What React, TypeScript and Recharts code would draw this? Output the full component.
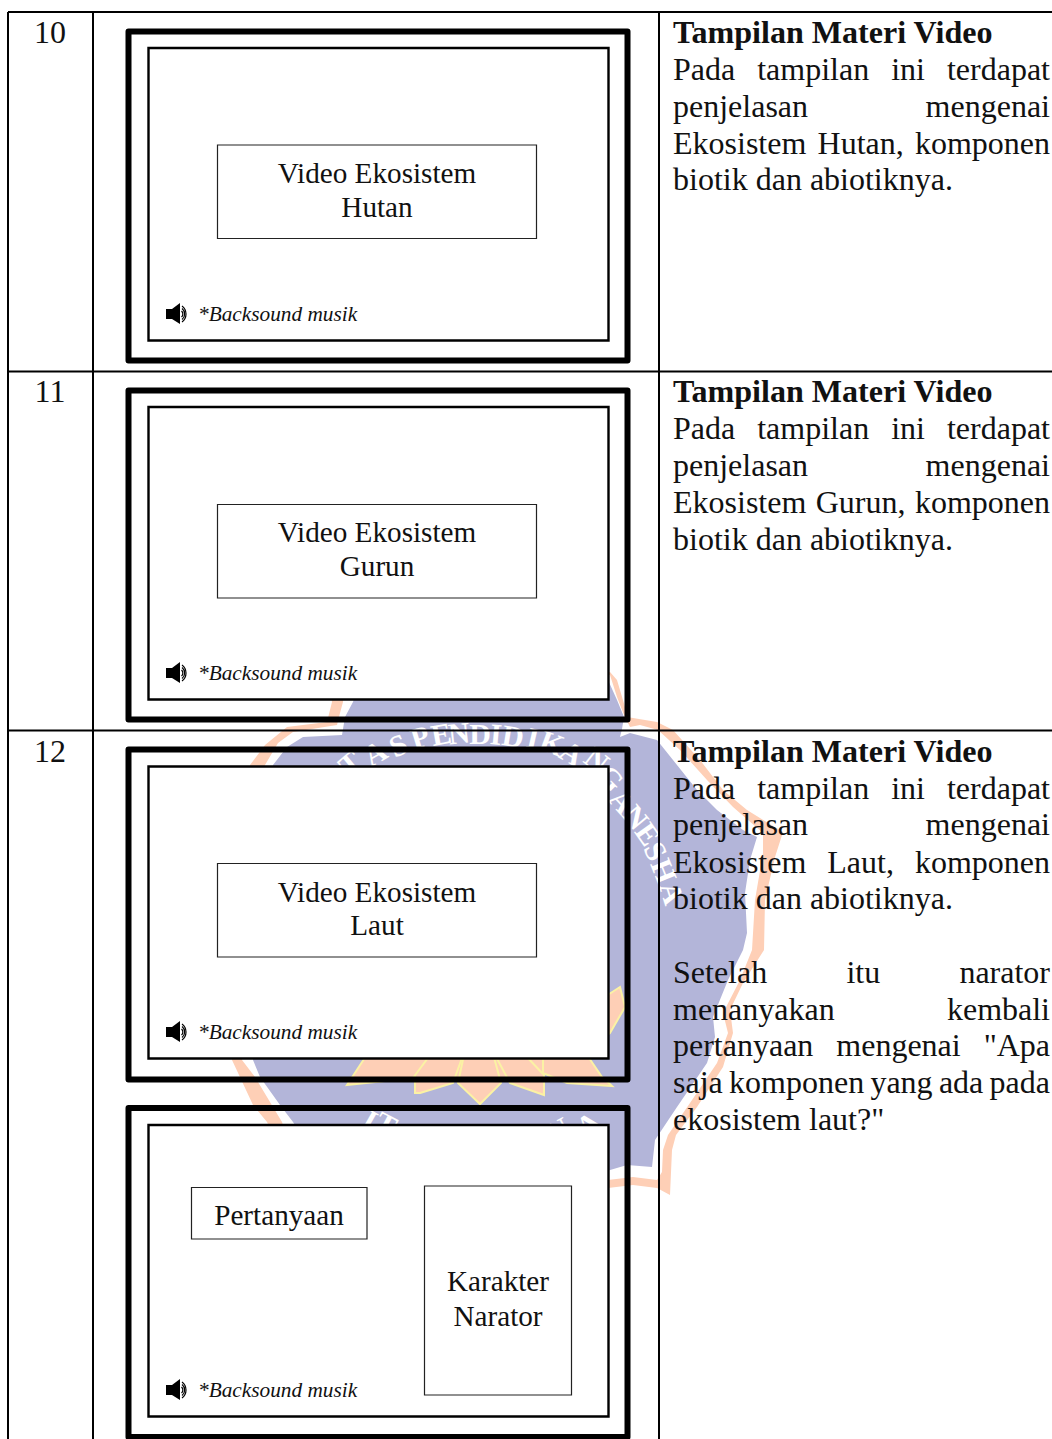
import React from 'react';
import { ScatterChart, Scatter, XAxis, YAxis } from 'recharts';

const PAGE_W = 1052;
const PAGE_H = 1439;
const SERIF = '"Liberation Serif", "Times New Roman", serif';
const RIGHT_COL_W = 377;

type Pt = { x: number; y: number };
const pts = (list: number[][]): Pt[] => list.map(([x, y]) => ({ x, y }));
const rect = ([x0, y0, x1, y1]: number[]): Pt[] => pts([[x0, y0], [x1, y0], [x1, y1], [x0, y1]]);

// table rules
const tableRules = [
  [8, 12, 1052, 12],
  [8, 371.5, 1052, 371.5],
  [8, 730.5, 1052, 730.5],
  [8, 12, 8, 1439],
  [93, 12, 93, 1439],
  [659, 12, 659, 1439],
];

// storyboard screens
const outerFrames = [
  [128.5, 31.5, 627.5, 360.5],
  [128.5, 390.5, 627.5, 719.5],
  [128.5, 749.5, 627.5, 1079.5],
  [128.5, 1108, 627.5, 1437],
];
const innerPanels = [
  [148.5, 48, 608.5, 340.5],
  [148.5, 407, 608.5, 699.5],
  [148.5, 766.5, 608.5, 1058.5],
  [148.5, 1125, 608.5, 1416.5],
];
const contentBoxes = [
  [217.5, 145, 536.5, 238.5],
  [217.5, 504.5, 536.5, 598],
  [217.5, 863.5, 536.5, 957],
  [191.5, 1187.5, 367, 1239],
  [424.5, 1186, 571.5, 1395],
];

// text
const rowNumbers = [
  { x: 50, y: 43, text: '10' },
  { x: 50, y: 402, text: '11' },
  { x: 50, y: 762, text: '12' },
];
const headings = [
  { x: 673, y: 43, text: 'Tampilan Materi Video' },
  { x: 673, y: 402, text: 'Tampilan Materi Video' },
  { x: 673, y: 762, text: 'Tampilan Materi Video' },
];
const bodyLines = [
  { x: 673, y: 79.5, text: 'Pada tampilan ini terdapat', justify: true },
  { x: 673, y: 116.5, text: 'penjelasan mengenai', justify: true },
  { x: 673, y: 153.5, text: 'Ekosistem Hutan, komponen', justify: true },
  { x: 673, y: 190, text: 'biotik dan abiotiknya.', justify: false },
  { x: 673, y: 439, text: 'Pada tampilan ini terdapat', justify: true },
  { x: 673, y: 476, text: 'penjelasan mengenai', justify: true },
  { x: 673, y: 512.5, text: 'Ekosistem Gurun, komponen', justify: true },
  { x: 673, y: 549.5, text: 'biotik dan abiotiknya.', justify: false },
  { x: 673, y: 799, text: 'Pada tampilan ini terdapat', justify: true },
  { x: 673, y: 835, text: 'penjelasan mengenai', justify: true },
  { x: 673, y: 872.5, text: 'Ekosistem Laut, komponen', justify: true },
  { x: 673, y: 909, text: 'biotik dan abiotiknya.', justify: false },
  { x: 673, y: 983, text: 'Setelah itu narator', justify: true },
  { x: 673, y: 1020, text: 'menanyakan kembali', justify: true },
  { x: 673, y: 1056, text: 'pertanyaan mengenai "Apa', justify: true },
  { x: 673, y: 1093, text: 'saja komponen yang ada pada', justify: true },
  { x: 673, y: 1130, text: 'ekosistem laut?"', justify: false },
];
const boxLabels = [
  { x: 377, y: 183, text: 'Video Ekosistem' },
  { x: 377, y: 217, text: 'Hutan' },
  { x: 377, y: 542, text: 'Video Ekosistem' },
  { x: 377, y: 576, text: 'Gurun' },
  { x: 377, y: 902, text: 'Video Ekosistem' },
  { x: 377, y: 935, text: 'Laut' },
  { x: 279, y: 1225, text: 'Pertanyaan' },
  { x: 498, y: 1291, text: 'Karakter' },
  { x: 498, y: 1326, text: 'Narator' },
];
const soundNotes = [
  { x: 198, y: 321, text: '*Backsound musik' },
  { x: 198, y: 680, text: '*Backsound musik' },
  { x: 198, y: 1039, text: '*Backsound musik' },
  { x: 198, y: 1397, text: '*Backsound musik' },
];
const speakers = pts([[166, 314], [166, 673], [166, 1032], [166, 1390]]);

// watermark seal; hidden stretches run behind the white panels
const sealOrange = pts([
  [330, 690], [332, 702], [327, 722], [287, 727], [265, 745], [250, 765], [232, 900], [232, 1060],
  [253, 1105], [267, 1122], [300, 1190], [608, 1188], [633, 1185], [657, 1188], [670, 1195],
  [672, 1150], [676, 1135], [697, 1107], [723, 1067], [733, 1033], [730, 1010], [743, 983], [764, 950],
  [765, 900], [775, 857], [783, 832], [747, 810], [723, 790], [700, 760], [673, 730], [657, 722],
  [633, 718], [627, 717], [625, 707], [617, 680], [610, 672],
]);
const sealWhite = pts([
  [343, 690], [343, 702], [340, 713], [337, 725], [293, 732], [278, 743], [265, 765], [242, 900],
  [242, 1060], [255, 1077], [282, 1122], [300, 1178], [608, 1180], [633, 1177], [657, 1180],
  [662, 1172], [663, 1150], [668, 1135], [690, 1103], [717, 1063], [728, 1033], [723, 1013],
  [740, 980], [752, 950], [755, 900], [763, 853], [763, 833], [733, 807], [707, 780], [680, 750],
  [658, 730], [640, 725], [630, 727], [624, 715], [617, 697], [610, 675],
]);
const sealPurple = pts([
  [360, 680], [353, 702], [345, 717], [342, 735], [303, 737], [287, 747], [273, 765], [253, 900], [253, 1060],
  [260, 1077], [280, 1105], [293, 1122], [310, 1150], [400, 1172], [600, 1173], [627, 1165],
  [652, 1167], [655, 1140], [677, 1107], [707, 1063], [715, 1037], [713, 1017], [728, 980],
  [743, 950], [747, 933], [745, 893], [750, 860], [757, 837], [743, 830], [717, 810], [697, 790],
  [673, 760], [657, 740], [630, 733], [620, 737], [622, 729], [624, 717], [617, 700], [608, 680],
]);
const sealFlowerBase = pts([
  [370, 1055], [587, 1055], [597, 1070], [540, 1073], [510, 1078], [420, 1078], [400, 1075], [360, 1075],
]);
const sealPetals = [
  [[458, 1083], [480, 1104], [501, 1083], [492, 1050], [465, 1050]],
  [[510, 1083], [544, 1095], [544, 1075], [525, 1055], [495, 1055]],
  [[420, 1093], [453, 1083], [463, 1055], [415, 1055], [415, 1093]],
  [[347, 1085], [413, 1078], [430, 1055], [370, 1050]],
  [[567, 1083], [612, 1086], [602, 1077], [587, 1055], [543, 1055], [543, 1073]],
  [[620, 987], [625, 1007], [610, 1033], [600, 1040], [600, 1000]],
];
const sealLetters = [
  { x: 350, y: 763, text: 'T', rot: -40 },
  { x: 375, y: 753, text: 'A', rot: -30 },
  { x: 398, y: 745, text: 'S', rot: -24 },
  { x: 420, y: 737, text: 'P', rot: -17 },
  { x: 441, y: 734, text: 'E', rot: -10 },
  { x: 459, y: 733, text: 'N', rot: -6 },
  { x: 480, y: 733, text: 'D', rot: 0 },
  { x: 496, y: 734, text: 'I', rot: 5 },
  { x: 513, y: 736, text: 'D', rot: 9 },
  { x: 533, y: 738, text: 'I', rot: 13 },
  { x: 552, y: 743, text: 'K', rot: 20 },
  { x: 572, y: 753, text: 'A', rot: 30 },
  { x: 597, y: 760, text: 'N', rot: 38 },
  { x: 611, y: 778, text: 'G', rot: 45 },
  { x: 622, y: 801, text: 'A', rot: 48 },
  { x: 636, y: 817, text: 'N', rot: 50 },
  { x: 648, y: 834, text: 'E', rot: 55 },
  { x: 656, y: 851, text: 'S', rot: 62 },
  { x: 664, y: 871, text: 'H', rot: 68 },
  { x: 672, y: 893, text: 'A', rot: 72 },
  { x: 370, y: 1120, text: 'I', rot: 30 },
  { x: 386, y: 1124, text: 'T', rot: 28 },
  { x: 558, y: 1130, text: 'N', rot: -28 },
  { x: 588, y: 1124, text: 'A', rot: -38 },
];

const noShape = () => null;

let measureCtx: CanvasRenderingContext2D | null = null;
const measure = (text: string, font: string) => {
  if (!measureCtx) measureCtx = document.createElement('canvas').getContext('2d');
  measureCtx!.font = font;
  return measureCtx!.measureText(text).width;
};

const textShape = (style: any) => (props: any) => {
  const { cx, cy, payload } = props;
  let wordSpacing;
  if (payload.justify) {
    const font = `${style.fontSize}px ${SERIF}`;
    const gaps = payload.text.split(' ').length - 1;
    wordSpacing = (RIGHT_COL_W - measure(payload.text, font)) / gaps;
  }
  return (
    <text x={cx} y={cy} fontFamily={SERIF} fill="#111" wordSpacing={wordSpacing} {...style}>
      {payload.text}
    </text>
  );
};

const letterShape = (props: any) => {
  const { cx, cy, payload } = props;
  return (
    <text
      x={cx}
      y={cy}
      transform={`rotate(${payload.rot} ${cx} ${cy})`}
      textAnchor="middle"
      dominantBaseline="central"
      fontFamily={SERIF}
      fontWeight="bold"
      fontSize={30}
      fill="#fff"
    >
      {payload.text}
    </text>
  );
};

const speakerShape = (props: any) => {
  const { cx, cy } = props;
  return (
    <g transform={`translate(${cx} ${cy})`}>
      <path d="M0 -5 L6 -5 L14 -11 L14 10 L6 5 L0 5 Z" fill="#000" />
      <path d="M15.5 -3 A4 4 0 0 1 15.5 3" fill="none" stroke="#000" strokeWidth={1.2} />
      <path d="M16 -5.5 A7 7 0 0 1 16 5.5" fill="none" stroke="#000" strokeWidth={1.2} />
      <path d="M16 -8 A10 10 0 0 1 16 8" fill="none" stroke="#000" strokeWidth={1.2} />
    </g>
  );
};

const polygon = (key: string, data: Pt[], style: any) => (
  <Scatter
    key={key}
    data={data}
    isAnimationActive={false}
    shape={noShape}
    line={style}
    lineJointType="linearClosed"
    legendType="none"
  />
);

const App: React.FC = () => {
  return (
    <div style={{ position: 'absolute', left: 0, top: 0, width: PAGE_W, height: PAGE_H, background: '#fff' }}>
      <ScatterChart width={PAGE_W} height={PAGE_H} margin={{ top: 0, right: 0, bottom: 0, left: 0 }}>
        <XAxis type="number" dataKey="x" domain={[0, PAGE_W]} hide />
        <YAxis type="number" dataKey="y" domain={[0, PAGE_H]} reversed hide />

        {polygon('seal-orange', sealOrange, { fill: '#FECFB6', stroke: 'none' })}
        {polygon('seal-white', sealWhite, { fill: '#fff', stroke: 'none' })}
        {polygon('seal-purple', sealPurple, { fill: '#B3B5D9', stroke: 'none' })}
        {polygon('seal-flower', sealFlowerBase, { fill: '#FECFB6', stroke: 'none' })}
        {sealPetals.map((p, i) =>
          polygon(`petal-${i}`, pts(p), { fill: '#FECFB6', stroke: '#FBF2A4', strokeWidth: 2 })
        )}
        <Scatter data={sealLetters} isAnimationActive={false} shape={letterShape} legendType="none" />

        {tableRules.map(([x0, y0, x1, y1], i) => (
          <Scatter
            key={`rule-${i}`}
            data={pts([[x0, y0], [x1, y1]])}
            isAnimationActive={false}
            shape={noShape}
            line={{ stroke: '#000', strokeWidth: 2 }}
            legendType="none"
          />
        ))}
        {outerFrames.map((r, i) =>
          polygon(`frame-${i}`, rect(r), { fill: 'none', stroke: '#000', strokeWidth: 6, strokeLinejoin: 'round' })
        )}
        {innerPanels.map((r, i) =>
          polygon(`panel-${i}`, rect(r), { fill: '#fff', stroke: '#000', strokeWidth: 2.4 })
        )}
        {contentBoxes.map((r, i) =>
          polygon(`box-${i}`, rect(r), { fill: '#fff', stroke: '#222', strokeWidth: 1.2 })
        )}

        <Scatter data={rowNumbers} isAnimationActive={false} legendType="none" shape={textShape({ fontSize: 32, textAnchor: 'middle' })} />
        <Scatter data={headings} isAnimationActive={false} legendType="none" shape={textShape({ fontSize: 32.1, fontWeight: 'bold' })} />
        <Scatter data={bodyLines} isAnimationActive={false} legendType="none" shape={textShape({ fontSize: 32 })} />
        <Scatter data={boxLabels} isAnimationActive={false} legendType="none" shape={textShape({ fontSize: 29.2, textAnchor: 'middle' })} />
        <Scatter data={soundNotes} isAnimationActive={false} legendType="none" shape={textShape({ fontSize: 21.3, fontStyle: 'italic' })} />
        <Scatter data={speakers} isAnimationActive={false} legendType="none" shape={speakerShape} />
      </ScatterChart>
    </div>
  );
};

export default App;
